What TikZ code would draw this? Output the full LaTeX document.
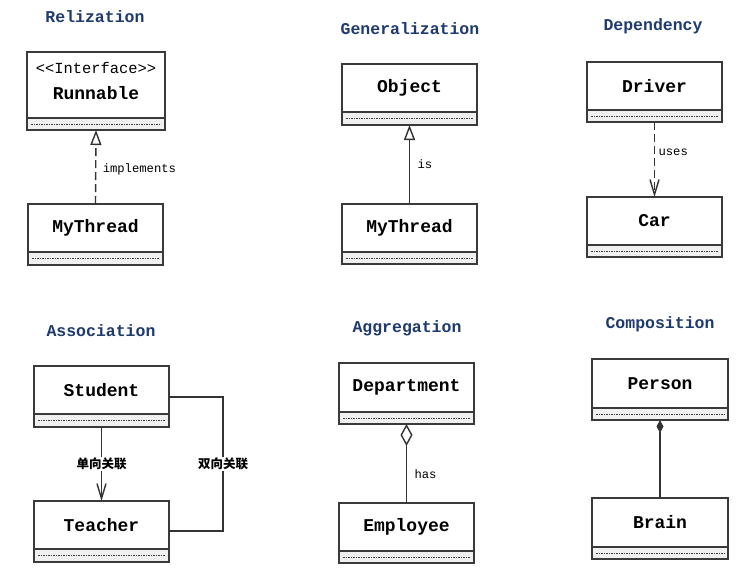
\documentclass[tikz,border=0pt]{standalone}
\usepackage{fontspec}
\newfontfamily\mono{Liberation Mono}
\newfontfamily\cjk{Noto Sans CJK SC}
\usetikzlibrary{arrows.meta}
\definecolor{titleblue}{HTML}{1F3A6E}
\definecolor{boxline}{HTML}{3A3A3A}
\definecolor{connline}{HTML}{333333}
\definecolor{compfill}{HTML}{F0F0F0}
\tikzset{
  classbox/.style={draw=boxline, line width=1.7pt, fill=white, anchor=north west,
    inner sep=0pt, outer sep=0pt,
    font=\mono\bfseries\fontsize{18}{18}\selectfont},
  compbox/.style={draw=boxline, line width=1.7pt, fill=compfill, anchor=north west,
    inner sep=0pt, outer sep=0pt},
  compdash/.style={draw=black!75, line width=0.8pt, dash pattern=on 1.6pt off 0.9pt},
  titletext/.style={text=titleblue, font=\mono\bfseries\fontsize{16.5}{16.5}\selectfont},
  stereo/.style={font=\mono\fontsize{15.4}{15.4}\selectfont},
  cname/.style={font=\mono\bfseries\fontsize{18}{18}\selectfont},
  lbl/.style={font=\mono\fontsize{12.2}{12.2}\selectfont, text=black},
  cjklbl/.style={font=\cjk\bfseries\fontsize{12.5}{12.5}\selectfont, fill=white, inner sep=1pt},
  conn/.style={draw=connline, line width=1.4pt},
  dashconn/.style={conn, dash pattern=on 8pt off 4pt},
}
\newcommand\umlclass[7]{%
  \node[classbox, minimum width=#4pt-#2pt, minimum height=#5pt-#3pt] (#1) at (#2,#3) {#7};
  \node[compbox, minimum width=#4pt-#2pt, minimum height=#6pt-#5pt] (#1L) at (#2,#5) {};
  \draw[compdash] ([xshift=4pt]#1L.west) -- ([xshift=-4pt]#1L.east);
}
\begin{document}
\begin{tikzpicture}[x=1pt,y=-1pt]
\useasboundingbox[fill=white] (0,0) rectangle (746,582);

% titles
\node[titletext] (t1) at (95,17) {Relization};
\node[titletext] (t2) at (410,29) {Generalization};
\node[titletext] (t3) at (653,26) {Dependency};
\node[titletext] (t4) at (101,331) {Association};
\node[titletext] (t5) at (407,328) {Aggregation};
\node[titletext] (t6) at (660,324) {Composition};

% classes
\umlclass{run}{27}{52}{165}{118}{130}{}
\node[stereo] (runst) at (96,68) {<<Interface>>};
\node[cname] (runnm) at (96,93) {Runnable};
\umlclass{mta}{28}{204}{163}{252}{265}{MyThread}
\umlclass{obj}{342}{64}{477}{112}{125}{Object}
\umlclass{mtb}{342}{204}{477}{252}{264}{MyThread}
\umlclass{drv}{587}{62}{722}{110}{122}{Driver}
\umlclass{car}{587}{197}{722}{245}{257}{Car}
\umlclass{stu}{34}{366}{169}{414}{427}{Student}
\umlclass{tea}{34}{501}{169}{549}{562}{Teacher}
\umlclass{dep}{339}{363}{474}{412}{424}{Department}
\umlclass{emp}{339}{503}{474}{551}{563}{Employee}
\umlclass{per}{592}{359}{728}{408}{420}{Person}
\umlclass{brn}{592}{498}{728}{547}{559}{Brain}

% realization
\draw[dashconn, -{Triangle[open, length=15pt, width=11pt, fill=white]}]
  (mta.north) -- node[lbl, right, pos=0.47, xshift=3pt] {implements} (runL.south);
% generalization
\draw[conn, -{Triangle[open, length=15pt, width=11pt, fill=white]}]
  (mtb.north) -- node[lbl, right, pos=0.5, xshift=4pt] {is} (objL.south);
% dependency
\draw[dashconn, -{Straight Barb[length=15pt, width=9pt]}]
  (drvL.south) -- node[lbl, right, pos=0.4] {uses} (car.north);
% association
\draw[conn, -{Straight Barb[length=15pt, width=9pt]}]
  (stuL.south) -- node[cjklbl, pos=0.5] {单向关联} (tea.north);
\coordinate (bca) at (223,397);
\coordinate (bcb) at (223,531);
\draw[conn] ([yshift=-7pt]stu.east) -- (bca) -- node[cjklbl, pos=0.5] {双向关联} (bcb) -- ([yshift=-6pt]tea.east);
% aggregation
\draw[conn, {Diamond[open, length=22pt, width=12pt, fill=white]}-]
  (depL.south) -- node[lbl, right, pos=0.63, xshift=4pt] {has} (emp.north);
% composition
\draw[conn, {Diamond[length=13pt, width=7pt]}-]
  (perL.south) -- (brn.north);
\end{tikzpicture}
\end{document}
